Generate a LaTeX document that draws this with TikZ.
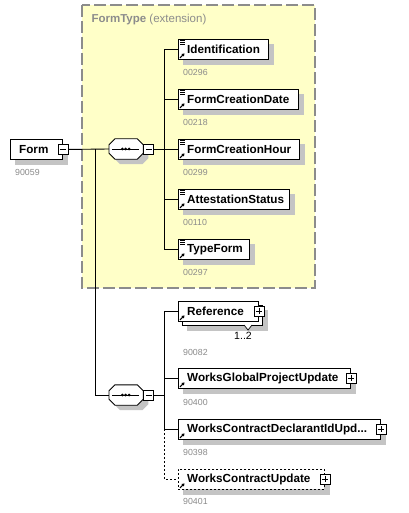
\documentclass[tikz,border=0pt]{standalone}
\usepackage{fontspec}
\setmainfont{Liberation Sans}
\usetikzlibrary{arrows.meta, calc, positioning}
\pgfdeclarelayer{back}
\pgfdeclarelayer{shadow}
\pgfsetlayers{back,shadow,main}
\definecolor{Panel}{HTML}{FFFFC8}
\definecolor{PanelEdge}{HTML}{8C8C8C}
\definecolor{ShadowGrey}{HTML}{C4C4C4}
\definecolor{IdGrey}{HTML}{8A8A8A}
\tikzset{
  elem/.style={draw=black, fill=white, line width=0.9pt, anchor=north west, minimum height=20pt, inner sep=0pt},
  optelem/.style={elem, dash pattern=on 2pt off 2pt},
  elemtext/.style={anchor=west, inner sep=0pt, xshift=9pt, font=\fontsize{11.7}{13}\selectfont\bfseries},
  idtext/.style={anchor=west, inner sep=0pt, color=IdGrey, font=\fontsize{8.8}{10}\selectfont},
  compositor/.style={minimum width=34pt, minimum height=20pt, inner sep=0pt},
  toggle/.style={draw=black, fill=white, line width=0.7pt, minimum size=10pt, inner sep=0pt},
  minusbox/.style={toggle, path picture={
      \draw[line width=0.7pt] ([xshift=2pt]path picture bounding box.west) -- ([xshift=-2pt]path picture bounding box.east);}},
  plusbox/.style={toggle, path picture={
      \draw[line width=0.7pt] ([xshift=2pt]path picture bounding box.west) -- ([xshift=-2pt]path picture bounding box.east);
      \draw[line width=0.7pt] ([yshift=-2pt]path picture bounding box.north) -- ([yshift=2pt]path picture bounding box.south);}},
  wire/.style={line width=0.9pt},
  optwire/.style={wire, dash pattern=on 2pt off 2pt},
  panel/.style={fill=Panel, draw=PanelEdge, line width=1.2pt, dash pattern=on 12pt off 4pt},
}
% small marks in the element boxes
\newcommand{\typemark}[1]{%
  \foreach \k in {1.2,3.2,5.2} {\draw[line width=0.6pt] ($(#1.north west)+(2,\k)$) -- ++(5,0);}}
\newcommand{\refmark}[1]{%
  \draw[line width=1pt, -{Triangle[length=2.6pt,width=3.2pt]}] ($(#1.south west)+(2,-2)$) -- ++(4.5,-4.5);}
\newcommand{\boxshadow}[1]{%
  \begin{pgfonlayer}{shadow}
    \fill[ShadowGrey] ($(#1.north west)+(5,5)$) rectangle ($(#1.south east)+(5,5)$);
  \end{pgfonlayer}}
% octagon round a compositor node, moved by (#2,#3)
\newcommand{\octagon}[3]{($(#1.north west)+(#2+6,#3)$) -- ($(#1.north east)+(#2-6,#3)$) -- ($(#1.north east)+(#2,#3+6)$)
    -- ($(#1.south east)+(#2,#3-6)$) -- ($(#1.south east)+(#2-6,#3)$) -- ($(#1.south west)+(#2+6,#3)$)
    -- ($(#1.south west)+(#2,#3-6)$) -- ($(#1.north west)+(#2,#3+6)$) -- cycle}
\newcommand{\seqmark}[1]{%
  \begin{pgfonlayer}{shadow}
    \fill[ShadowGrey] \octagon{#1}{5}{5};
  \end{pgfonlayer}
  \draw[line width=0.9pt, fill=white] \octagon{#1}{0}{0};
  \draw[line width=0.9pt] ($(#1.west)+(3,0)$) -- ($(#1.east)+(-4,0)$);
  \foreach \dx in {-3.4,0,3.4} {\fill ($(#1.center)+(\dx-0.5,0)$) circle (1.5pt);}}

\begin{document}
\begin{tikzpicture}[x=1pt, y=-1pt]
  \begin{pgfonlayer}{back}
    \fill[white] (0,0) rectangle (408,513);
    % Extension panel
    \draw[panel] (82,5) rectangle (315,288);
  \end{pgfonlayer}
  \useasboundingbox (0,0) rectangle (408,513);
  \node[anchor=west, color=PanelEdge, font=\fontsize{11.5}{13}\selectfont] (paneltitle) at (88,20) {\textbf{FormType} (extension)};

  % Root element
  \node[elem, minimum width=52pt, label={[elemtext]west:Form}] (form) at (10,139) {};
  \node[minusbox] (formtoggle) at (form.east) {};
  \node[idtext] (formid) at ($(form.south west)+(5,13)$) {90059};

  % First sequence
  \node[compositor, anchor=west] (seq1) at (109,149) {};
  \seqmark{seq1}
  \node[minusbox, anchor=west] (seq1toggle) at (seq1.east) {};
  \coordinate (fork) at (95,149);
  \coordinate (bus1) at ($(seq1toggle.east)+(10,0)$);

  \node[elem, minimum width=90pt, label={[elemtext]west:Identification}] (ident) at (178,39) {};
  \node[elem, minimum width=120pt, label={[elemtext]west:FormCreationDate}] (fcdate) at (178,89) {};
  \node[elem, minimum width=121pt, label={[elemtext]west:FormCreationHour}] (fchour) at (178,139) {};
  \node[elem, minimum width=111pt, label={[elemtext]west:AttestationStatus}] (attest) at (178,189) {};
  \node[elem, minimum width=71pt, label={[elemtext]west:TypeForm}] (typeform) at (178,239) {};

  \node[idtext] (identid) at ($(ident.south west)+(5,13)$) {00296};
  \node[idtext] (fcdateid) at ($(fcdate.south west)+(5,13)$) {00218};
  \node[idtext] (fchourid) at ($(fchour.south west)+(5,13)$) {00299};
  \node[idtext] (attestid) at ($(attest.south west)+(5,13)$) {00110};
  \node[idtext] (typeformid) at ($(typeform.south west)+(5,13)$) {00297};

  \foreach \n in {ident,fcdate,fchour,attest,typeform} {
    \typemark{\n}
    \refmark{\n}
    \draw[wire] (bus1) |- (\n.west);
  }

  % Second sequence
  \node[compositor, anchor=west] (seq2) at (109,395) {};
  \seqmark{seq2}
  \node[minusbox, anchor=west] (seq2toggle) at (seq2.east) {};
  \coordinate (bus2) at ($(seq2toggle.east)+(10,0)$);

  \node[elem, minimum width=80pt] (refback) at (182,305) {};
  \draw[line width=0.7pt, fill=white] (244,325) -- (248,330) -- (252,325);
  \node[elem, minimum width=80pt, label={[elemtext]west:Reference}] (ref) at (178,301) {};
  \node[plusbox] (reftoggle) at (ref.east) {};
  \node[font=\fontsize{10.5}{12}\selectfont, inner sep=0pt] (refcount) at (243,336) {1..2};
  \node[idtext] (refid) at (183,352) {90082};

  \node[elem, minimum width=172pt, label={[elemtext]west:WorksGlobalProjectUpdate}] (wgpu) at (178,368) {};
  \node[plusbox] (wgputoggle) at (wgpu.east) {};
  \node[idtext] (wgpuid) at ($(wgpu.south west)+(5,14)$) {90400};

  \node[elem, minimum width=202pt, label={[elemtext]west:WorksContractDeclarantIdUpd...}] (wcdiu) at (178,419) {};
  \node[plusbox] (wcdiutoggle) at (wcdiu.east) {};
  \node[idtext] (wcdiuid) at ($(wcdiu.south west)+(5,13)$) {90398};

  \node[optelem, minimum width=146pt, label={[elemtext]west:WorksContractUpdate}] (wcu) at (178,469) {};
  \node[plusbox] (wcutoggle) at (wcu.east) {};
  \node[idtext] (wcuid) at ($(wcu.south west)+(5,12)$) {90401};

  \foreach \n in {ref,wgpu,wcdiu,wcu} {\refmark{\n}}
  \foreach \n in {form,ident,fcdate,fchour,attest,typeform,refback,wgpu,wcdiu,wcu} {\boxshadow{\n}}

  % Connectors
  \draw[wire] (formtoggle.east) -- (seq1.west);
  \draw[wire] (seq1toggle.east) -- (bus1);
  \draw[wire] (fork) |- (seq2.west);
  \draw[wire] (seq2toggle.east) -- (bus2);
  \draw[wire] (bus2) |- (ref.west);
  \draw[wire] (bus2) |- (wgpu.west);
  \draw[wire] (bus2) |- (wcdiu.west);
  \draw[optwire] (wcdiu.west -| bus2) |- (wcu.west);
\end{tikzpicture}
\end{document}
